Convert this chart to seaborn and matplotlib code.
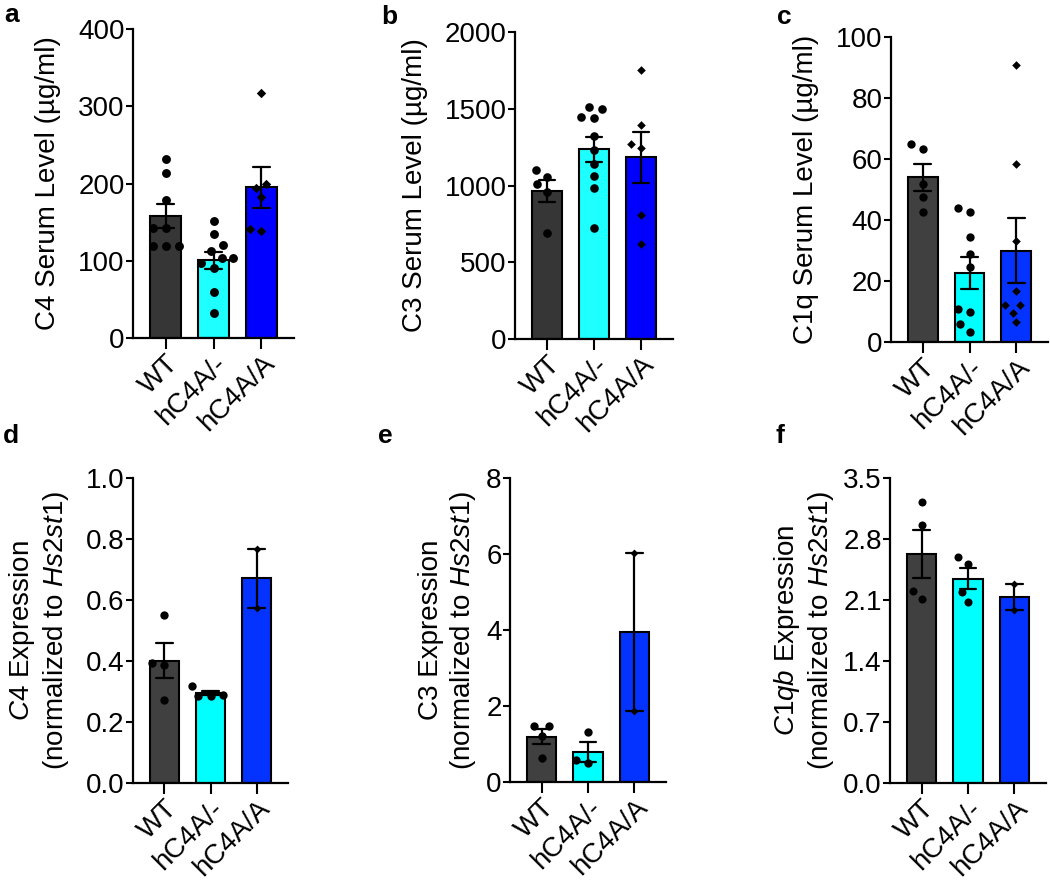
import numpy as np
import pandas as pd
import matplotlib.pyplot as plt
import seaborn as sns
from matplotlib.ticker import FormatStrFormatter

sns.set_style("ticks")
plt.rcParams["font.family"] = ["Liberation Sans", "DejaVu Sans"]
plt.rcParams["mathtext.fontset"] = "custom"
plt.rcParams["mathtext.rm"] = "Liberation Sans"
plt.rcParams["mathtext.it"] = "Liberation Sans:italic"
for key in ["text.color", "axes.labelcolor", "xtick.color", "ytick.color", "axes.edgecolor"]:
    plt.rcParams[key] = "black"

groups = ["WT", "hC4A/-", "hC4A/A"]

# serum levels (ug/ml)
c4_wt = [232, 213, 178, 142, 142, 119, 119, 119]
c4_het = [152, 134, 120, 112, 104, 103, 97, 91, 60, 33]
c4_hom = [317, 200, 194, 182, 141, 138]

c3_wt = [1100, 1056, 1007, 959, 688]
c3_het = [1501, 1512, 1440, 1443, 1321, 1230, 1143, 1061, 981, 720]
c3_hom = [1755, 1397, 1269, 1245, 811, 620]

c1q_wt = [64.9, 63.3, 51.9, 47.6, 42.5]
c1q_het = [43.8, 42.5, 34.3, 29.0, 24.5, 10.7, 9.7, 6.0, 3.4]
c1q_hom = [90.9, 58.4, 33.0, 16.8, 12.0, 12.0, 9.6, 6.4]

# expression normalized to Hs2st1
c4e_wt = [0.552, 0.393, 0.388, 0.271]
c4e_het = [0.319, 0.290, 0.286, 0.286]
c4e_hom = [0.768, 0.574]

c3e_wt = [1.465, 1.465, 1.21, 0.63]
c3e_het = [1.316, 0.57, 0.51]
c3e_hom = [6.035, 1.86]

c1qb_wt = [3.223, 2.955, 2.204, 2.112]
c1qb_het = [2.591, 2.514, 2.196, 2.081]
c1qb_hom = [2.281, 1.982]

top_colors = ["#363636", "#1EFFFF", "#0000FF"]
low_colors = ["#404040", "#00FFFF", "#0433FF"]

W, H = 1050, 881
fig = plt.figure(figsize=(W / 100, H / 100), dpi=100)


def px_axes(left, top, right, bottom):
    return fig.add_axes([left / W, 1 - bottom / H, (right - left) / W, (bottom - top) / H])


def panel(ax, wt, het, hom, colors, ylabel, label_x, ymax, step, fmt, dot, dia):
    df = pd.DataFrame({
        "group": np.repeat(groups, [len(wt), len(het), len(hom)]),
        "value": wt + het + hom,
    })
    sns.barplot(data=df, x="group", y="value", hue="group", order=groups,
                palette=colors, saturation=1, errorbar="se", capsize=0.36, width=0.64,
                edgecolor="black", linewidth=1.5, legend=False,
                err_kws={"color": "black", "linewidth": 1.6}, ax=ax)
    sns.swarmplot(data=df[df.group != "hC4A/A"], x="group", y="value", order=groups,
                  color="black", size=dot, linewidth=2.5, edgecolor=(0, 0, 0, 0),
                  zorder=3, ax=ax)
    sns.swarmplot(data=df[df.group == "hC4A/A"], x="group", y="value", order=groups,
                  color="black", marker="D", size=dia, linewidth=3, edgecolor=(0, 0, 0, 0),
                  zorder=3, ax=ax)
    ax.set_xlim(-0.68, 2.68)
    ax.set_ylim(0, ymax)
    ax.set_yticks(np.arange(0, ymax + step / 2, step))
    ax.yaxis.set_major_formatter(FormatStrFormatter(fmt))
    ax.set_xlabel("")
    ax.set_ylabel(ylabel, fontsize=20)
    # label position given as the pixel x of the label's right side
    x0 = ax.get_position().x0 * W
    ax.yaxis.set_label_coords((label_x - x0) / (ax.get_position().width * W), 0.5)
    ax.set_xticks(range(3))
    ax.set_xticklabels(groups, rotation=45, ha="right", rotation_mode="anchor")
    ax.tick_params(axis="y", labelsize=20, length=5, width=1.5, pad=1)
    ax.tick_params(axis="x", labelsize=20, length=8, width=1.5, pad=1)
    for s in ["top", "right"]:
        ax.spines[s].set_visible(False)
    for s in ["left", "bottom"]:
        ax.spines[s].set_linewidth(1.6)


ax_a = px_axes(133, 29, 294, 338)
panel(ax_a, c4_wt, c4_het, c4_hom, top_colors, "C4 Serum Level (µg/ml)", 61,
      400, 100, "%d", 6.4, 4.8)

ax_b = px_axes(515, 32, 673, 339)
panel(ax_b, c3_wt, c3_het, c3_hom, top_colors, "C3 Serum Level (µg/ml)", 428,
      2000, 500, "%d", 6.2, 4.4)

ax_c = px_axes(891, 37, 1048, 342)
panel(ax_c, c1q_wt, c1q_het, c1q_hom, low_colors, "C1q Serum Level (µg/ml)", 819,
      100, 20, "%d", 6.0, 4.4)

ax_d = px_axes(133, 478, 288, 783)
panel(ax_d, c4e_wt, c4e_het, c4e_hom, low_colors,
      "$\\mathit{C4}$ Expression\n(normalized to $\\mathit{Hs2st1}$)", 71,
      1.0, 0.2, "%.1f", 6.0, 4.0)

ax_e = px_axes(510, 478, 666, 782)
panel(ax_e, c3e_wt, c3e_het, c3e_hom, low_colors,
      "C3 Expression\n(normalized to $\\mathit{Hs2st1}$)", 478,
      8, 2, "%d", 6.0, 4.0)

ax_f = px_axes(890, 478, 1046, 783)
panel(ax_f, c1qb_wt, c1qb_het, c1qb_hom, low_colors,
      "$\\mathit{C1qb}$ Expression\n(normalized to $\\mathit{Hs2st1}$)", 836,
      3.5, 0.7, "%.1f", 5.8, 4.0)

for letter, x, y in [("a", 4, 22), ("b", 381, 24), ("c", 777, 24),
                     ("d", 3, 443), ("e", 378, 443), ("f", 776, 443)]:
    fig.text(x / W, 1 - y / H, letter, fontsize=19, fontweight="bold", va="baseline")

fig.savefig("out.png", dpi=100)
